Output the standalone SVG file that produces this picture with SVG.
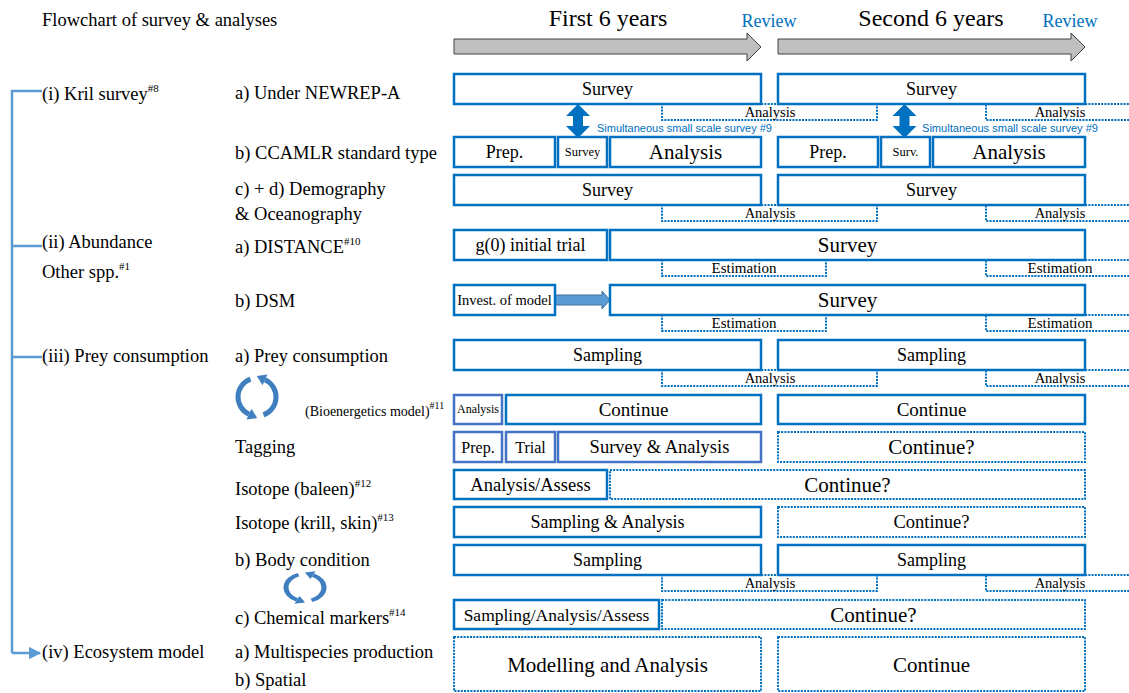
<svg xmlns="http://www.w3.org/2000/svg" xmlns:xlink="http://www.w3.org/1999/xlink" width="1129" height="693" viewBox="0 0 1129 693">
<style>
text{font-family:"Liberation Serif","Times New Roman",serif;fill:#000}
.lbl{font-size:18.5px}
.sup{font-size:11px}
.box{fill:#fff;stroke:#0070c0;stroke-width:2.5}
.boxp{fill:#fff;stroke:#4472c4;stroke-width:2.5}
.dash{fill:#fff;stroke:#0070c0;stroke-width:2;stroke-dasharray:2 1.2}
.c{text-anchor:middle}
.rev{fill:#0070c0;font-size:18px}
.sim{font-family:"Liberation Sans",Arial,sans-serif;fill:#0070c0;font-size:11px}
.conn{fill:none;stroke:#5b9bd5;stroke-width:2.5}
.cyc{fill:none;stroke:#3f7fc0;stroke-width:5}
.cych{fill:#3f7fc0}
</style>
<defs>
<marker id="ah" viewBox="0 0 10 10" refX="9" refY="5" markerWidth="5" markerHeight="5" orient="auto" markerUnits="strokeWidth"><path d="M0,0 L10,5 L0,10 z" fill="#5b9bd5"/></marker>
<g id="cycle">
<path class="cyc" d="M -6.5 -17.9 A 19 19 0 0 0 -8 17.2"/>
<polygon class="cych" points="0.15,21 -10.5,22.6 -5.5,11.8"/>
<path class="cyc" d="M 6.5 17.9 A 19 19 0 0 0 8 -17.2"/>
<polygon class="cych" points="-0.15,-21 10.5,-22.6 5.5,-11.8"/>
</g>
</defs>
<rect width="1129" height="693" fill="#fff"/>

<g id="header">
<text x="42" y="26" style="font-size:18.5px">Flowchart of survey &amp; analyses</text>
<text x="608" y="26" class="c" style="font-size:24px">First 6 years</text>
<text x="931" y="26" class="c" style="font-size:24px">Second 6 years</text>
<text x="769" y="27" class="c rev">Review</text>
<text x="1070" y="27" class="c rev">Review</text>
<polygon points="454,39 747,39 747,33 761,47 747,61 747,54 454,54" fill="#bfbfbf" stroke="#404040" stroke-width="1"/>
<polygon points="778,39 1071,39 1071,33 1085,47 1071,61 1071,54 778,54" fill="#bfbfbf" stroke="#404040" stroke-width="1"/>
</g>

<g id="connectors">
<polyline class="conn" points="42,91 12,91 12,653"/>
<line class="conn" x1="12" y1="246" x2="42" y2="246"/>
<line class="conn" x1="12" y1="357" x2="42" y2="357"/>
<line class="conn" x1="12" y1="653" x2="40" y2="653" marker-end="url(#ah)"/>
<polygon points="555,295 602,295 602,291 610,300 602,309 602,305 555,305" fill="#5b9bd5" stroke="#41719c" stroke-width="1"/>
<polygon points="578,104 590,116 583,116 583,126 590,126 578,138 566,126 573,126 573,116 566,116" fill="#0070c0"/>
<polygon points="904.5,104 916.5,116 909.5,116 909.5,126 916.5,126 904.5,138 892.5,126 899.5,126 899.5,116 892.5,116" fill="#0070c0"/>
<text x="597" y="132" class="sim" textLength="175" lengthAdjust="spacingAndGlyphs">Simultaneous small scale survey #9</text>
<text x="922" y="132" class="sim" textLength="176" lengthAdjust="spacingAndGlyphs">Simultaneous small scale survey #9</text>
<use xlink:href="#cycle" href="#cycle" transform="translate(257,397)"/>
<use xlink:href="#cycle" href="#cycle" transform="translate(305,587.5) scale(1,0.72)"/>
</g>

<g id="labels">
<text x="42" y="100" class="lbl">(i) Kril survey<tspan class="sup" dy="-8">#8</tspan></text>
<text x="42" y="248" class="lbl">(ii) Abundance</text>
<text x="42" y="278" class="lbl">Other spp.<tspan class="sup" dy="-8">#1</tspan></text>
<text x="42" y="362" class="lbl">(iii) Prey consumption</text>
<text x="42" y="658" class="lbl">(iv) Ecosystem model</text>
<text x="235" y="99" class="lbl">a) Under NEWREP-A</text>
<text x="235" y="159" class="lbl">b) CCAMLR standard type</text>
<text x="235" y="195" class="lbl">c) + d) Demography</text>
<text x="235" y="220" class="lbl">&amp; Oceanography</text>
<text x="235" y="253" class="lbl">a) DISTANCE<tspan class="sup" dy="-8">#10</tspan></text>
<text x="235" y="307" class="lbl">b) DSM</text>
<text x="235" y="362" class="lbl">a) Prey consumption</text>
<text x="305" y="416" style="font-size:14px">(Bioenergetics model)<tspan dy="-7" style="font-size:10px">#11</tspan></text>
<text x="235" y="453" class="lbl">Tagging</text>
<text x="235" y="495" class="lbl">Isotope (baleen)<tspan class="sup" dy="-8">#12</tspan></text>
<text x="235" y="529" class="lbl">Isotope (krill, skin)<tspan class="sup" dy="-8">#13</tspan></text>
<text x="235" y="566" class="lbl">b) Body condition</text>
<text x="235" y="624" class="lbl">c) Chemical markers<tspan class="sup" dy="-8">#14</tspan></text>
<text x="235" y="658" class="lbl">a) Multispecies production</text>
<text x="235" y="686" class="lbl">b) Spatial</text>
</g>

<!-- Row 1 krill a -->
<g id="r1-analysis1"><rect class="dash" x="662" y="104" width="215" height="16"/><text x="770" y="117" class="c" style="font-size:14.5px">Analysis</text></g>
<g id="r1-analysis2"><rect class="dash" x="986" y="104" width="150" height="16"/><text x="1060" y="117" class="c" style="font-size:14.5px">Analysis</text></g>
<g id="r1-survey1"><rect class="box" x="454" y="74" width="307" height="30"/><text x="607.5" y="95" class="c" style="font-size:18px">Survey</text></g>
<g id="r1-survey2"><rect class="box" x="778" y="74" width="307" height="30"/><text x="931.5" y="95" class="c" style="font-size:18px">Survey</text></g>

<!-- Row 2 CCAMLR -->
<g id="r2-prep1"><rect class="box" x="454" y="137" width="101" height="30"/><text x="504.5" y="158" class="c" style="font-size:18px">Prep.</text></g>
<g id="r2-survey1"><rect class="box" x="558" y="137" width="49" height="30"/><text x="582.5" y="156" class="c" style="font-size:12.5px">Survey</text></g>
<g id="r2-analysis1"><rect class="box" x="610" y="137" width="151" height="30"/><text x="685.5" y="159" class="c" style="font-size:21px">Analysis</text></g>
<g id="r2-prep2"><rect class="box" x="778" y="137" width="100" height="30"/><text x="828" y="158" class="c" style="font-size:18px">Prep.</text></g>
<g id="r2-surv2"><rect class="box" x="881" y="137" width="49" height="30"/><text x="905.5" y="156" class="c" style="font-size:12.5px">Surv.</text></g>
<g id="r2-analysis2"><rect class="box" x="933" y="137" width="152" height="30"/><text x="1009" y="159" class="c" style="font-size:21px">Analysis</text></g>

<!-- Row 3 demography -->
<g id="r3-analysis1"><rect class="dash" x="662" y="205" width="215" height="16"/><text x="770" y="218" class="c" style="font-size:14.5px">Analysis</text></g>
<g id="r3-analysis2"><rect class="dash" x="986" y="205" width="150" height="16"/><text x="1060" y="218" class="c" style="font-size:14.5px">Analysis</text></g>
<g id="r3-survey1"><rect class="box" x="454" y="175" width="307" height="30"/><text x="607.5" y="196" class="c" style="font-size:18px">Survey</text></g>
<g id="r3-survey2"><rect class="box" x="778" y="175" width="307" height="30"/><text x="931.5" y="196" class="c" style="font-size:18px">Survey</text></g>

<!-- Row 4 DISTANCE -->
<g id="r4-est1"><rect class="dash" x="662" y="260" width="164" height="16"/><text x="744" y="273" class="c" style="font-size:15px">Estimation</text></g>
<g id="r4-est2"><rect class="dash" x="986" y="260" width="150" height="16"/><text x="1060" y="273" class="c" style="font-size:15px">Estimation</text></g>
<g id="r4-g0"><rect class="box" x="454" y="230" width="153" height="30"/><text x="530.5" y="251" class="c" style="font-size:18px">g(0) initial trial</text></g>
<g id="r4-survey"><rect class="box" x="610" y="230" width="475" height="30"/><text x="847.5" y="252" class="c" style="font-size:21px">Survey</text></g>

<!-- Row 5 DSM -->
<g id="r5-est1"><rect class="dash" x="662" y="315" width="164" height="16"/><text x="744" y="328" class="c" style="font-size:15px">Estimation</text></g>
<g id="r5-est2"><rect class="dash" x="986" y="315" width="150" height="16"/><text x="1060" y="328" class="c" style="font-size:15px">Estimation</text></g>
<g id="r5-invest"><rect class="box" x="454" y="285" width="101" height="30"/><text x="504.5" y="305" class="c" style="font-size:14.5px">Invest. of model</text></g>
<g id="r5-survey"><rect class="box" x="610" y="285" width="475" height="30"/><text x="847.5" y="307" class="c" style="font-size:21px">Survey</text></g>

<!-- Row 6 prey consumption -->
<g id="r6-analysis1"><rect class="dash" x="662" y="370" width="215" height="16"/><text x="770" y="383" class="c" style="font-size:14.5px">Analysis</text></g>
<g id="r6-analysis2"><rect class="dash" x="986" y="370" width="150" height="16"/><text x="1060" y="383" class="c" style="font-size:14.5px">Analysis</text></g>
<g id="r6-sampling1"><rect class="box" x="454" y="340" width="307" height="30"/><text x="607.5" y="361" class="c" style="font-size:18px">Sampling</text></g>
<g id="r6-sampling2"><rect class="box" x="778" y="340" width="307" height="30"/><text x="931.5" y="361" class="c" style="font-size:18px">Sampling</text></g>

<!-- Row 7 bioenergetics -->
<g id="r7-analysis"><rect class="boxp" x="454" y="395" width="48" height="29"/><text x="478" y="413" class="c" style="font-size:12px">Analysis</text></g>
<g id="r7-continue1"><rect class="box" x="506" y="395" width="255" height="29"/><text x="633.5" y="416" class="c" style="font-size:19px">Continue</text></g>
<g id="r7-continue2"><rect class="box" x="778" y="395" width="307" height="29"/><text x="931.5" y="416" class="c" style="font-size:19px">Continue</text></g>

<!-- Row 8 tagging -->
<g id="r8-prep"><rect class="boxp" x="454" y="432" width="48" height="30"/><text x="478" y="453" class="c" style="font-size:16px">Prep.</text></g>
<g id="r8-trial"><rect class="boxp" x="506" y="432" width="49" height="30"/><text x="530.5" y="453" class="c" style="font-size:16px">Trial</text></g>
<g id="r8-sa"><rect class="boxp" x="558" y="432" width="203" height="30"/><text x="659.5" y="453" class="c" style="font-size:18.5px">Survey &amp; Analysis</text></g>
<g id="r8-continue"><rect class="dash" x="778" y="432" width="307" height="30"/><text x="931.5" y="454" class="c" style="font-size:21px">Continue?</text></g>

<!-- Row 9 isotope baleen -->
<g id="r9-aa"><rect class="box" x="454" y="470" width="153" height="29"/><text x="530.5" y="491" class="c" style="font-size:18.5px">Analysis/Assess</text></g>
<g id="r9-continue"><rect class="dash" x="610" y="470" width="475" height="29"/><text x="847.5" y="492" class="c" style="font-size:21px">Continue?</text></g>

<!-- Row 10 isotope krill -->
<g id="r10-sa"><rect class="box" x="454" y="507" width="307" height="30"/><text x="607.5" y="528" class="c" style="font-size:18px">Sampling &amp; Analysis</text></g>
<g id="r10-continue"><rect class="dash" x="778" y="507" width="307" height="30"/><text x="931.5" y="528" class="c" style="font-size:18.5px">Continue?</text></g>

<!-- Row 11 body condition -->
<g id="r11-analysis1"><rect class="dash" x="662" y="575" width="215" height="16"/><text x="770" y="588" class="c" style="font-size:14.5px">Analysis</text></g>
<g id="r11-analysis2"><rect class="dash" x="986" y="575" width="150" height="16"/><text x="1060" y="588" class="c" style="font-size:14.5px">Analysis</text></g>
<g id="r11-sampling1"><rect class="box" x="454" y="545" width="307" height="30"/><text x="607.5" y="566" class="c" style="font-size:18px">Sampling</text></g>
<g id="r11-sampling2"><rect class="box" x="778" y="545" width="307" height="30"/><text x="931.5" y="566" class="c" style="font-size:18px">Sampling</text></g>

<!-- Row 12 chemical markers -->
<g id="r12-saa"><rect class="box" x="454" y="600" width="205" height="29"/><text x="556.5" y="621" class="c" style="font-size:17.5px">Sampling/Analysis/Assess</text></g>
<g id="r12-continue"><rect class="dash" x="662" y="600" width="423" height="29"/><text x="873.5" y="622" class="c" style="font-size:21px">Continue?</text></g>

<!-- Row 13 ecosystem -->
<g id="r13-model"><rect class="dash" x="454" y="637" width="307" height="54"/><text x="607.5" y="672" class="c" style="font-size:21px">Modelling and Analysis</text></g>
<g id="r13-continue"><rect class="dash" x="778" y="637" width="307" height="54"/><text x="931.5" y="672" class="c" style="font-size:21px">Continue</text></g>
</svg>
